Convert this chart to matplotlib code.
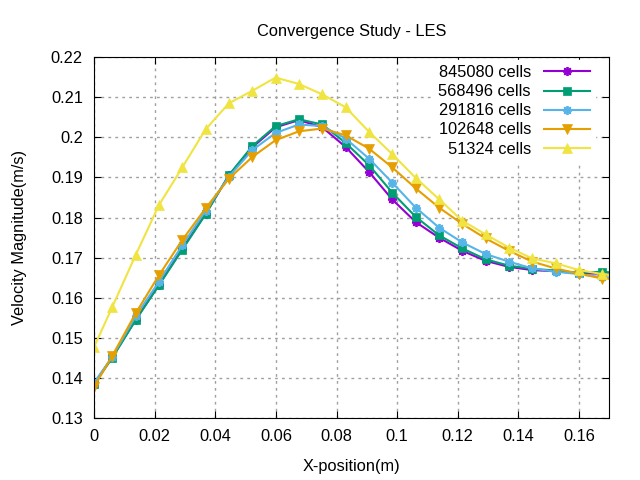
import numpy as np
import matplotlib.pyplot as plt
from matplotlib.ticker import MultipleLocator, FuncFormatter

# posicions x (m) - l'ultim punt cau fora del rang i queda retallat
x = [0, 0.006, 0.0137, 0.0214, 0.0291, 0.0368, 0.0445, 0.0522, 0.0599, 0.0676,
     0.0753, 0.083, 0.0907, 0.0984, 0.1061, 0.1138, 0.1215, 0.1292, 0.1369,
     0.1446, 0.1523, 0.16, 0.1677, 0.1754]

v_845080 = [0.1385, 0.1452, 0.1545, 0.1633, 0.1722, 0.1810, 0.1905, 0.1975,
            0.2025, 0.2043, 0.2025, 0.1976, 0.1914, 0.1845, 0.1789, 0.1750,
            0.1717, 0.1692, 0.1677, 0.1669, 0.1666, 0.1661, 0.1660, 0.1655]
v_568496 = [0.1385, 0.1450, 0.1544, 0.1631, 0.1720, 0.1808, 0.1906, 0.1978,
            0.2028, 0.2045, 0.2032, 0.1986, 0.1931, 0.1862, 0.1802, 0.1756,
            0.1723, 0.1696, 0.1680, 0.1672, 0.1668, 0.1662, 0.1665, 0.1660]
v_291816 = [0.1388, 0.1453, 0.1554, 0.1640, 0.1731, 0.1817, 0.1902, 0.1968,
            0.2011, 0.2032, 0.2028, 0.1997, 0.1947, 0.1887, 0.1825, 0.1775,
            0.1738, 0.1709, 0.1690, 0.1673, 0.1665, 0.1659, 0.1651, 0.1650]
v_102648 = [0.1378, 0.1455, 0.1561, 0.1656, 0.1744, 0.1823, 0.1897, 0.1951,
            0.1993, 0.2015, 0.2022, 0.2005, 0.1972, 0.1925, 0.1873, 0.1825,
            0.1784, 0.1748, 0.1717, 0.1690, 0.1673, 0.1660, 0.1648, 0.1645]
v_51324 = [0.1477, 0.1577, 0.1706, 0.1831, 0.1925, 0.2020, 0.2085, 0.2116,
           0.2149, 0.2133, 0.2107, 0.2075, 0.2014, 0.1958, 0.1899, 0.1846,
           0.1792, 0.1758, 0.1725, 0.1698, 0.1686, 0.1669, 0.1659, 0.1655]

labels = ["845080 cells", "568496 cells", "291816 cells", "102648 cells",
          "\u200751324 cells"]
series = [v_845080, v_568496, v_291816, v_102648, v_51324]
colors = ['#9400d3', '#009e73', '#56b4e9', '#e69f00', '#f0e442']
markers = [(8, 2, 0), 's', (8, 2, 0), 'v', '^']
msizes = [6.5, 5.5, 6.5, 7, 7]
mews = [1.3, 0.5, 1.3, 0.5, 0.5]

plt.rcParams['font.family'] = ['Liberation Sans', 'DejaVu Sans']
plt.rcParams['font.size'] = 11.8

fig = plt.figure(figsize=(6.4, 4.8), dpi=100)
ax = fig.add_axes([0.147, 0.129, 0.805, 0.752])

for i in range(len(series)):
    ax.plot(x, series[i], color=colors[i], lw=1.5, marker=markers[i],
            ms=msizes[i], mew=mews[i], mec=colors[i], mfc=colors[i],
            label=labels[i])

ax.set_xlim(0, 0.17)
ax.set_ylim(0.13, 0.22)
ax.xaxis.set_major_locator(MultipleLocator(0.02))
ax.yaxis.set_major_locator(MultipleLocator(0.01))
fmt = FuncFormatter(lambda v, p: '%g' % round(v, 4))
ax.xaxis.set_major_formatter(fmt)
ax.yaxis.set_major_formatter(fmt)
ax.tick_params(direction='in', length=5, top=True, right=True, pad=8)

ax.grid(True, color='#a0a0a0', ls=(0, (2, 3)), lw=1)
ax.set_axisbelow(True)

ax.set_xlabel('X-position(m)', labelpad=11)
ax.set_ylabel('Velocity Magnitude(m/s)', labelpad=17)
ax.set_title('Convergence Study - LES', fontsize=11.8, pad=15)

leg = ax.legend(loc='upper right', bbox_to_anchor=(0.988, 1.014),
                markerfirst=False, fancybox=False,
                framealpha=1, edgecolor='white', facecolor='white',
                handlelength=2.8, handletextpad=0.8, labelspacing=0.25,
                borderpad=0.3, borderaxespad=0.5, fontsize=11.8)

plt.savefig('out.png', dpi=100)
